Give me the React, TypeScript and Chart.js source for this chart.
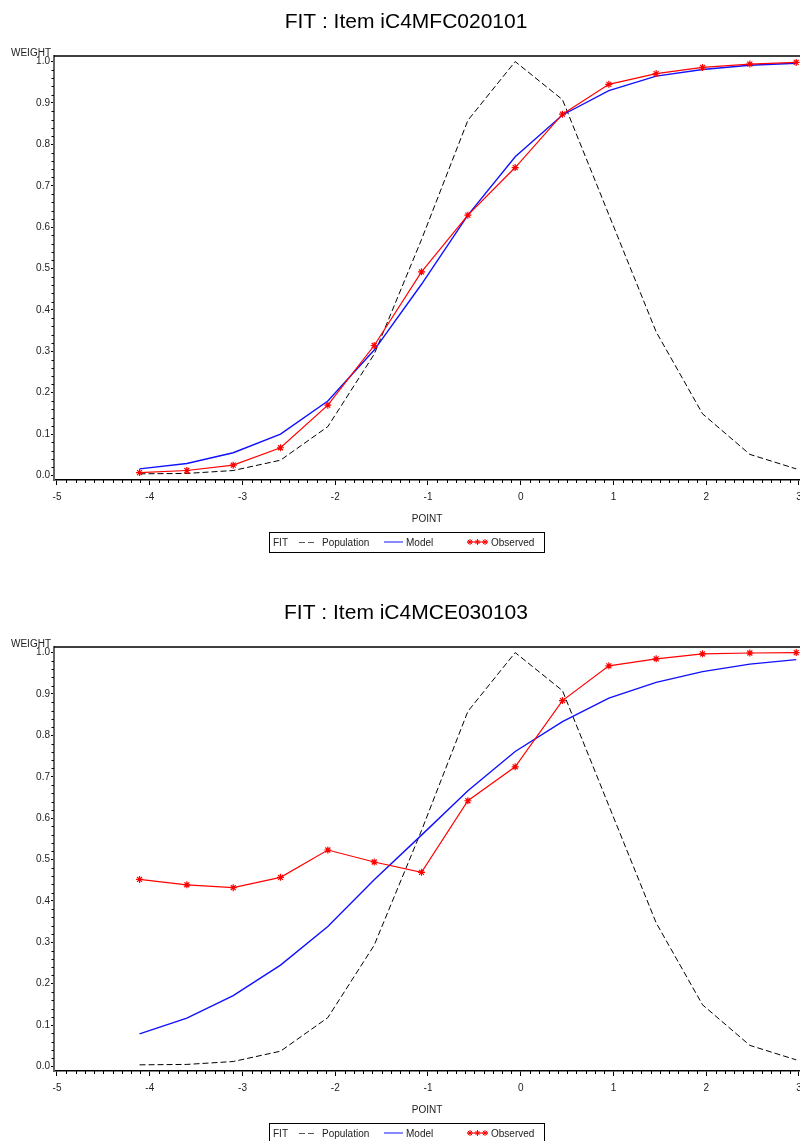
import React, { useEffect, useRef } from "react";
import { Chart, registerables } from "chart.js";

Chart.register(...registerables);

// ---------- data ----------
const POINTS = [-4.11, -3.6, -3.1, -2.59, -2.08, -1.58, -1.07, -0.57, -0.06, 0.45, 0.95, 1.46, 1.96, 2.47, 2.97];

const POPULATION = [0.004, 0.005, 0.012, 0.037, 0.118, 0.293, 0.57, 0.858, 1.0, 0.908, 0.63, 0.347, 0.149, 0.051, 0.016];

const MODEL_1 = [0.016, 0.029, 0.055, 0.1, 0.18, 0.303, 0.462, 0.629, 0.77, 0.871, 0.93, 0.965, 0.981, 0.991, 0.996];
const OBSERVED_1 = [0.007, 0.012, 0.025, 0.067, 0.17, 0.314, 0.492, 0.629, 0.744, 0.873, 0.945, 0.971, 0.986, 0.994, 0.998];

const MODEL_2 = [0.079, 0.117, 0.171, 0.245, 0.338, 0.451, 0.559, 0.666, 0.761, 0.833, 0.89, 0.928, 0.954, 0.972, 0.983];
const OBSERVED_2 = [0.452, 0.439, 0.432, 0.457, 0.523, 0.494, 0.469, 0.642, 0.724, 0.884, 0.968, 0.985, 0.997, 0.999, 1.0];

const TITLE_1 = "FIT : Item iC4MFC020101";
const TITLE_2 = "FIT : Item iC4MCE030103";

const X_TICKS = [-5, -4, -3, -2, -1, 0, 1, 2, 3];
const X_TICK_LABELS = ["-5", "-4", "-3", "-2", "-1", "0", "1", "2", "3"];
const Y_TICKS = [0, 0.1, 0.2, 0.3, 0.4, 0.5, 0.6, 0.7, 0.8, 0.9, 1.0];
const Y_TICK_LABELS = ["0.0", "0.1", "0.2", "0.3", "0.4", "0.5", "0.6", "0.7", "0.8", "0.9", "1.0"];

const X_AXIS_TITLE = "POINT";
const Y_AXIS_TITLE = "WEIGHT";
const LEGEND_TITLE = "FIT";
const SERIES_NAMES = ["Population", "Model", "Observed"];

// ---------- layout ----------
const FONT = "'Liberation Sans', Arial, Helvetica, sans-serif";
const X_MIN = -5.0323;
const X_MAX = 3.0108;
const Y_MIN = -0.0109;
const Y_MAX = 1.0135;
const PANEL_OFFSET = 591;
const PLOT_TOP = 56;
const PLOT_BOTTOM = 480;
const X_AXIS_H = 45;
const Y_AXIS_W = 54;

const decorPlugin = {
  id: "decor",
  afterDraw(chart: any) {
    const { ctx, chartArea } = chart;
    const xs = chart.scales.x;
    const ys = chart.scales.y;
    const title = chart.options.plugins.decor.title;
    ctx.save();
    // title
    ctx.fillStyle = "#000";
    ctx.font = `21px ${FONT}`;
    ctx.textAlign = "center";
    ctx.textBaseline = "alphabetic";
    ctx.fillText(title, 406, 27.5);
    // WEIGHT
    ctx.font = `10px ${FONT}`;
    ctx.fillStyle = "#222";
    ctx.textAlign = "right";
    ctx.fillText(Y_AXIS_TITLE, 51, 55.5);
    // top frame
    ctx.strokeStyle = "#000";
    ctx.lineWidth = 1.5;
    ctx.beginPath();
    ctx.moveTo(chartArea.left, chartArea.top);
    ctx.lineTo(chartArea.right, chartArea.top);
    ctx.stroke();
    // minor x ticks
    ctx.lineWidth = 1;
    ctx.strokeStyle = "#000";
    ctx.beginPath();
    for (let k = -50; k <= 30; k++) {
      if (k % 10 === 0) continue;
      const px = Math.round(xs.getPixelForValue(k / 10)) + 0.5;
      ctx.moveTo(px, chartArea.bottom);
      ctx.lineTo(px, chartArea.bottom + 3);
    }
    ctx.stroke();
    // minor y ticks
    ctx.beginPath();
    for (let k = 0; k <= 50; k++) {
      if (k % 5 === 0) continue;
      const py = Math.round(ys.getPixelForValue(k / 50)) + 0.5;
      ctx.moveTo(chartArea.left - 2.5, py);
      ctx.lineTo(chartArea.left, py);
    }
    ctx.stroke();
    // legend
    const ly = 542;
    ctx.strokeStyle = "#000";
    ctx.lineWidth = 1;
    ctx.strokeRect(269.5, 532.5, 275, 20);
    ctx.font = `10px ${FONT}`;
    ctx.fillStyle = "#222";
    ctx.textAlign = "left";
    ctx.textBaseline = "alphabetic";
    ctx.fillText(LEGEND_TITLE, 273, 545.5);
    ctx.fillText(SERIES_NAMES[0], 322, 545.5);
    ctx.fillText(SERIES_NAMES[1], 406, 545.5);
    ctx.fillText(SERIES_NAMES[2], 491, 545.5);
    ctx.strokeStyle = "#555";
    ctx.setLineDash([6, 3]);
    ctx.beginPath();
    ctx.moveTo(299, ly + 0.5);
    ctx.lineTo(315, ly + 0.5);
    ctx.stroke();
    ctx.setLineDash([]);
    ctx.strokeStyle = "#6060ff";
    ctx.lineWidth = 1.5;
    ctx.beginPath();
    ctx.moveTo(384, ly);
    ctx.lineTo(403, ly);
    ctx.stroke();
    ctx.strokeStyle = "#ff0000";
    ctx.lineWidth = 1;
    ctx.beginPath();
    ctx.moveTo(467, ly);
    ctx.lineTo(488, ly);
    ctx.stroke();
    [470, 477.5, 485].forEach((cx) => {
      ctx.beginPath();
      const r = 3;
      for (let a = 0; a < 4; a++) {
        const ang = (a * Math.PI) / 4;
        ctx.moveTo(cx - r * Math.cos(ang), ly - r * Math.sin(ang));
        ctx.lineTo(cx + r * Math.cos(ang), ly + r * Math.sin(ang));
      }
      ctx.stroke();
    });
    ctx.restore();
  },
};

function makeConfig(title: string, model: number[], observed: number[], height: number): any {
  const toXY = (arr: number[]) => POINTS.map((x, i) => ({ x, y: arr[i] }));
  return {
    type: "line",
    data: {
      datasets: [
        {
          label: SERIES_NAMES[0],
          data: toXY(POPULATION),
          borderColor: "#000",
          borderWidth: 1,
          borderDash: [6, 3],
          pointRadius: 0,
          tension: 0,
          order: 3,
        },
        {
          label: SERIES_NAMES[1],
          data: toXY(model),
          borderColor: "#1010ff",
          borderWidth: 1.4,
          pointRadius: 0,
          tension: 0,
          order: 2,
        },
        {
          label: SERIES_NAMES[2],
          data: toXY(observed),
          borderColor: "#ff0000",
          borderWidth: 1.2,
          pointStyle: "star",
          pointRadius: 3.5,
          pointBorderWidth: 1.2,
          pointBorderColor: "#ff0000",
          pointBackgroundColor: "#ff0000",
          tension: 0,
          order: 1,
        },
      ],
    },
    options: {
      responsive: false,
      animation: false,
      devicePixelRatio: 1,
      layout: {
        autoPadding: false,
        padding: { top: PLOT_TOP, left: 0, right: 0, bottom: height - PLOT_BOTTOM - X_AXIS_H },
      },
      plugins: {
        legend: { display: false },
        title: { display: false },
        tooltip: { enabled: false },
        decor: { title },
      },
      scales: {
        x: {
          type: "linear",
          min: X_MIN,
          max: X_MAX,
          afterBuildTicks: (s: any) => {
            s.ticks = X_TICKS.map((v) => ({ value: v }));
          },
          afterFit: (s: any) => {
            s.height = X_AXIS_H;
            s.paddingLeft = 0;
            s.paddingRight = 0;
          },
          grid: { drawOnChartArea: false, drawTicks: true, tickLength: 5, color: "#000", tickColor: "#000" },
          border: { display: true, color: "#000", width: 1.5 },
          ticks: {
            autoSkip: false,
            maxRotation: 0,
            padding: 6,
            color: "#222",
            font: { family: FONT, size: 10 },
            callback: (_v: any, i: number) => X_TICK_LABELS[i],
          },
          title: {
            display: true,
            text: X_AXIS_TITLE,
            color: "#222",
            font: { family: FONT, size: 10 },
            padding: 0,
          },
        },
        y: {
          type: "linear",
          min: Y_MIN,
          max: Y_MAX,
          afterBuildTicks: (s: any) => {
            s.ticks = Y_TICKS.map((v) => ({ value: v }));
          },
          afterFit: (s: any) => {
            s.width = Y_AXIS_W;
            s.paddingTop = 0;
            s.paddingBottom = 0;
          },
          grid: { drawOnChartArea: false, drawTicks: true, tickLength: 3, color: "#000", tickColor: "#000" },
          border: { display: true, color: "#666", width: 2 },
          ticks: {
            padding: 1,
            color: "#222",
            font: { family: FONT, size: 10 },
            callback: (_v: any, i: number) => Y_TICK_LABELS[i],
          },
        },
      },
    },
    plugins: [decorPlugin],
  };
}

function Panel({ title, model, observed, top, height }: any) {
  const ref = useRef<HTMLCanvasElement | null>(null);
  useEffect(() => {
    if (!ref.current) return;
    const chart = new Chart(ref.current, makeConfig(title, model, observed, height));
    return () => chart.destroy();
  }, [title, model, observed, height]);
  return (
    <canvas
      ref={ref}
      width={800}
      height={height}
      style={{ position: "absolute", left: 0, top, width: 800, height }}
    />
  );
}

export default function App() {
  return (
    <div
      style={{
        position: "absolute",
        left: 0,
        top: 0,
        width: 800,
        height: 1141,
        overflow: "hidden",
        background: "#fff",
      }}
    >
      <Panel title={TITLE_1} model={MODEL_1} observed={OBSERVED_1} top={0} height={PANEL_OFFSET} />
      <Panel title={TITLE_2} model={MODEL_2} observed={OBSERVED_2} top={PANEL_OFFSET} height={1141 - PANEL_OFFSET} />
    </div>
  );
}
